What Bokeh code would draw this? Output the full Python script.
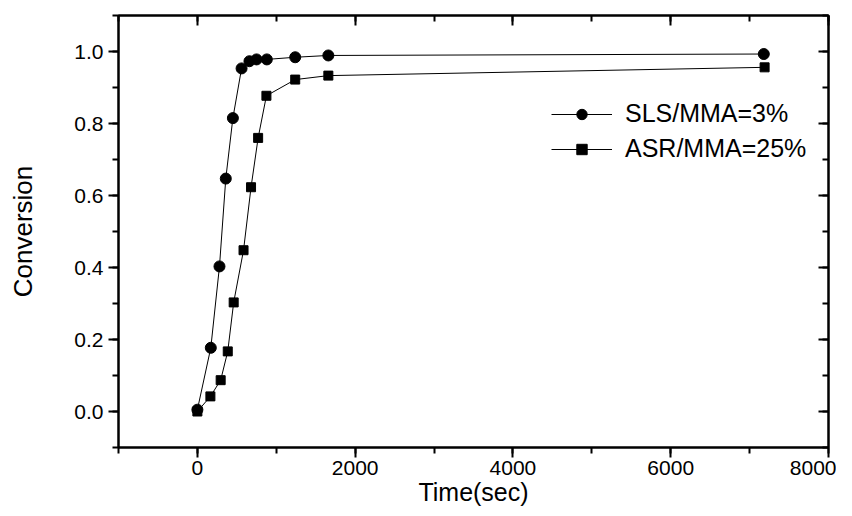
from bokeh.plotting import figure
from bokeh.models import (Range1d, LinearAxis, SingleIntervalTicker, NumeralTickFormatter,
                          Legend, LegendItem, CustomJSTickFormatter)
from bokeh.embed import file_html
from bokeh.resources import INLINE

# ---- data ----
sls_time = [0, 170, 280, 360, 450, 560, 660, 750, 880, 1240, 1660, 7180]
sls_conv = [0.005, 0.177, 0.403, 0.647, 0.815, 0.953, 0.973, 0.978, 0.978, 0.984, 0.989, 0.993]
asr_time = [0, 165, 295, 385, 460, 585, 680, 770, 875, 1240, 1660, 7190]
asr_conv = [0.0, 0.042, 0.087, 0.167, 0.303, 0.448, 0.623, 0.760, 0.877, 0.922, 0.933, 0.956]
sls_label = "SLS/MMA=3%"
asr_label = "ASR/MMA=25%"
x_title = "Time(sec)"
y_title = "Conversion"

FONT = "Liberation Sans"

p = figure(width=836, height=508, output_backend="svg", toolbar_location=None,
           x_range=Range1d(-1000, 8000), y_range=Range1d(-0.1, 1.1),
           min_border_left=118, min_border_right=8, min_border_top=15, min_border_bottom=10,
           x_axis_location=None, y_axis_location=None)
p.grid.visible = False
p.outline_line_color = "black"
p.outline_line_width = 2
p.background_fill_color = "white"
p.border_fill_color = "white"


def make_x():
    return SingleIntervalTicker(interval=2000, num_minor_ticks=2)


def make_y():
    return SingleIntervalTicker(interval=0.2, num_minor_ticks=2)


# bottom axis
xb = LinearAxis(ticker=make_x(), axis_label=x_title)
# left axis
yl = LinearAxis(ticker=make_y(), axis_label=y_title, formatter=NumeralTickFormatter(format="0.0"))
for ax in (xb, yl):
    ax.axis_line_width = 2
    ax.axis_line_color = "black"
    ax.major_tick_line_width = 2
    ax.minor_tick_line_width = 2
    ax.major_tick_out = 10
    ax.major_tick_in = 0
    ax.minor_tick_out = 6
    ax.minor_tick_in = 0
    ax.major_label_text_font = FONT
    ax.major_label_text_font_size = "21px"
    ax.major_label_text_color = "black"
    ax.axis_label_text_font = FONT
    ax.axis_label_text_font_size = "25px"
    ax.axis_label_text_font_style = "normal"
    ax.axis_label_text_color = "black"
xb.major_label_standoff = 3
xb.axis_label_standoff = 0
yl.major_label_standoff = 5
yl.axis_label_standoff = 33
yl.axis_label_text_font_size = "26px"
p.add_layout(xb, "below")
p.add_layout(yl, "left")

# top and right axes: ticks inward, no labels
xt = LinearAxis(ticker=make_x(), formatter=CustomJSTickFormatter(code="return ''"))
yr = LinearAxis(ticker=make_y(), formatter=CustomJSTickFormatter(code="return ''"))
for ax in (xt, yr):
    ax.axis_line_width = 2
    ax.major_tick_line_width = 2
    ax.minor_tick_line_width = 2
    ax.major_tick_in = 10
    ax.major_tick_out = 0
    ax.minor_tick_in = 6
    ax.minor_tick_out = 0
    ax.major_label_text_font_size = "1px"
    ax.major_label_standoff = 0
p.add_layout(xt, "above")
p.add_layout(yr, "right")

# series
l1 = p.line(sls_time, sls_conv, line_color="black", line_width=1)
l2 = p.line(asr_time, asr_conv, line_color="black", line_width=1)
m2 = p.scatter(asr_time, asr_conv, marker="square", size=9, fill_color="black", line_color="black")
m1 = p.scatter(sls_time, sls_conv, marker="circle", size=11, fill_color="black", line_color="black")

legend = Legend(items=[LegendItem(label=sls_label, renderers=[l1, m1]),
                       LegendItem(label=asr_label, renderers=[l2, m2])],
                location=(433, 284), orientation="vertical")
legend.background_fill_alpha = 0
legend.border_line_alpha = 0
legend.padding = 0
legend.margin = 0
legend.spacing = 6
legend.glyph_width = 61
legend.glyph_height = 26
legend.label_height = 26
legend.label_standoff = 13
legend.label_text_font = FONT
legend.label_text_font_size = "25px"
legend.label_text_color = "black"
p.add_layout(legend, "center")

open("out.html", "w").write(file_html(p, INLINE))
